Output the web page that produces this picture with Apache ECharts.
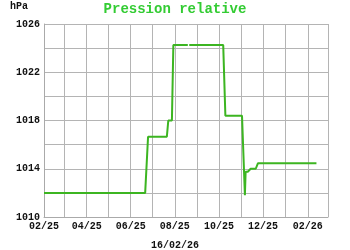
<!DOCTYPE html>
<html><head><meta charset="utf-8">
<script src="https://cdn.jsdelivr.net/npm/echarts@6/dist/echarts.min.js"></script>
<style>html,body{margin:0;padding:0;background:#fff}#c{width:350px;height:250px}</style>
</head><body><div id="c"></div>
<script>
const titleText = 'Pression relative';
const unitText = 'hPa';
const dateText = '16/02/26';
const dates = ['2025-02-01','2025-06-21','2025-06-25','2025-07-21','2025-07-23','2025-07-28','2025-07-30','2025-08-19','2025-08-20','2025-08-21','2025-10-07','2025-10-10','2025-11-02','2025-11-06','2025-11-07','2025-11-10','2025-11-14','2025-11-21','2025-11-24','2026-02-13'];
const values = [1012,1012,1016.65,1016.65,1018,1018,1024.25,1024.25,null,1024.25,1024.25,1018.4,1018.4,1011.8,1013.75,1013.75,1014.0,1014.0,1014.45,1014.45];
const xMin = '2025-02-01', xMax = '2026-03-01';
const yMin = 1010, yMax = 1026, yStep = 2, yLabelStep = 4;

const font = 'Liberation Mono, Courier New, monospace';
const chart = echarts.init(document.getElementById('c'));
const DAY = 86400000;
function pad(n){return (n<10?'0':'')+n;}
chart.setOption({
  animation: false,
  title: [
    {text: titleText, left: 'center', top: 2, padding: 0, textStyle: {fontFamily: font, fontSize: 14, fontWeight: 'bold', color: '#3c3'}},
    {text: unitText, left: 10, top: 1, padding: 0, textStyle: {fontFamily: font, fontSize: 10, fontWeight: 'bold', color: '#111'}},
    {text: dateText, left: 'center', top: 240, padding: 0, textStyle: {fontFamily: font, fontSize: 10, fontWeight: 'bold', color: '#111'}}
  ],
  grid: {left: 44, right: 22, top: 24, bottom: 33},
  xAxis: {
    type: 'time', min: xMin, max: xMax,
    minInterval: 28*DAY, maxInterval: 31*DAY,
    axisLine: {lineStyle: {color: '#aaa', width: 1}},
    axisTick: {show: false},
    splitLine: {show: true, lineStyle: {color: '#b4b4b4', width: 1}},
    axisLabel: {
      fontFamily: font, fontSize: 10, fontWeight: 'bold', color: '#111', margin: 4,
      showMinLabel: true, showMaxLabel: false, hideOverlap: false,
      formatter: function(v){ const d = new Date(v); if (d.getMonth() % 2 === 1 && d.getDate() === 1) return pad(d.getMonth()+1) + '/' + pad(d.getFullYear()%100); return ''; }
    }
  },
  yAxis: {
    type: 'value', min: yMin, max: yMax, interval: yStep,
    axisLine: {show: true, lineStyle: {color: '#aaa', width: 1}},
    axisTick: {show: false},
    splitLine: {show: true, lineStyle: {color: '#b4b4b4', width: 1}},
    axisLabel: {
      fontFamily: font, fontSize: 10, fontWeight: 'bold', color: '#111', margin: 4,
      formatter: function(v){ return ((v - yMin) % yLabelStep === 0) ? String(v) : ''; }
    }
  },
  series: [{
    type: 'line', showSymbol: false, connectNulls: false,
    lineStyle: {color: '#3cb521', width: 2},
    data: dates.map((d, i) => [d, values[i]])
  }]
});
</script></body></html>
